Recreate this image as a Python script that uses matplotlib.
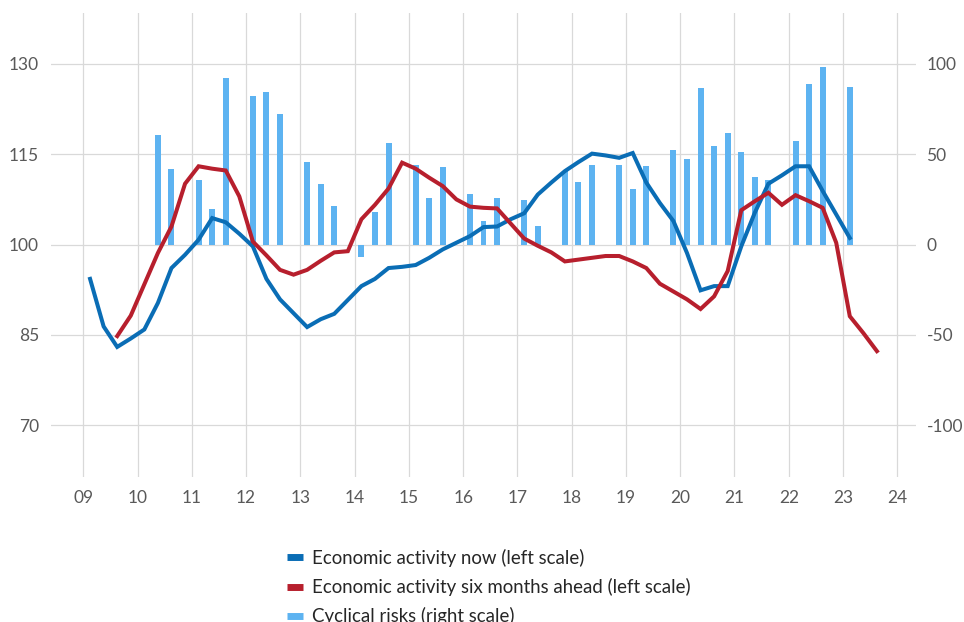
import numpy as np
import matplotlib
matplotlib.use("Agg")
import matplotlib.pyplot as plt
from matplotlib.lines import Line2D

plt.rcParams['font.family'] = ['Lato', 'DejaVu Sans']
plt.rcParams['axes.unicode_minus'] = False

# Quarterly survey points (fractional years)
now_dates = np.arange(2009.125, 2023.2, 0.25)
ahead_dates = np.arange(2009.625, 2023.7, 0.25)

# Economic activity now (left scale)
activity_now = [
    94.3, 86.4, 83.0, 84.4,
    85.9, 90.3, 96.1, 98.3,
    100.8, 104.4, 103.7, 101.8,
    99.7, 94.3, 90.9, 88.6,
    86.3, 87.6, 88.5, 90.8,
    93.1, 94.3, 96.1, 96.3,
    96.6, 97.8, 99.2, 100.3,
    101.4, 102.9, 103.0, 104.2,
    105.2, 108.3, 110.3, 112.2,
    113.7, 115.1, 114.8, 114.4,
    115.2, 110.3, 106.9, 103.9,
    98.6, 92.4, 93.1, 93.1,
    99.7, 105.3, 110.1, 111.5,
    113.0, 113.0, 108.9, 105.0,
    101.1,
]

# Economic activity six months ahead (left scale)
activity_ahead = [
    84.8, 88.2,
    93.4, 98.6, 103.0, 110.1,
    113.0, 112.6, 112.3, 108.0,
    100.5, 98.2, 95.8, 95.0,
    95.8, 97.3, 98.7, 98.9,
    104.2, 106.6, 109.3, 113.6,
    112.6, 111.1, 109.7, 107.5,
    106.3, 106.1, 106.0, 103.5,
    101.0, 99.8, 98.7, 97.2,
    97.5, 97.8, 98.1, 98.1,
    97.2, 96.1, 93.5, 92.2,
    90.9, 89.3, 91.4, 95.6,
    105.7, 107.2, 108.6, 106.6,
    108.2, 107.2, 106.1, 100.3,
    88.1, 85.3, 82.3,
]

# Cyclical risks (right scale)
risk_dates = [
    2010.375, 2010.625,
    2011.125, 2011.375, 2011.625,
    2012.125, 2012.375, 2012.625,
    2013.125, 2013.375, 2013.625,
    2014.125, 2014.375, 2014.625,
    2015.125, 2015.375, 2015.625,
    2016.125, 2016.375, 2016.625,
    2017.125, 2017.375, 2017.875,
    2018.125, 2018.375, 2018.875,
    2019.125, 2019.375, 2019.875,
    2020.125, 2020.375, 2020.625, 2020.875,
    2021.125, 2021.375, 2021.625,
    2022.125, 2022.375, 2022.625,
    2023.125,
]
cyclical_risks = [
    60.4, 42.1,
    35.8, 19.8, 92.4,
    82.5, 84.4, 72.4,
    45.8, 33.6, 21.1,
    -6.8, 18.1, 56.3,
    44.3, 25.5, 42.7,
    28.1, 13.3, 26.0,
    24.9, 10.1, 40.6,
    34.7, 43.8, 44.3,
    30.5, 43.4, 52.6,
    47.6, 86.4, 54.5, 61.7,
    51.3, 37.3, 35.8,
    57.4, 89.0, 98.4,
    87.4,
]

years = list(range(2009, 2025))
year_labels = [f"{y % 100:02d}" for y in years]

blue = '#0A6DB5'
red = '#B71F2D'
light = '#5DB3F1'
grid_col = '#D9D9D9'
txt = '#595959'

fig = plt.figure(figsize=(9.64, 6.22), dpi=100)
# right scale axes (bars + grid) sits underneath the left scale axes (lines)
ax2 = fig.add_axes([0.0529, 0.2331, 0.8973, 0.7455])
ax = fig.add_axes(ax2.get_position(), sharex=ax2)
ax.set_zorder(ax2.get_zorder() + 1)
ax.patch.set_visible(False)

lo, hi = 61.4, 138.4
ax.set_ylim(lo, hi)
ax2.set_ylim((lo - 100) / 0.3, (hi - 100) / 0.3)
ax2.set_xlim(2008.405, 2024.345)

ax2.bar(risk_dates, cyclical_risks, width=0.11, color=light, zorder=2)
ax.plot(now_dates, activity_now, color=blue, lw=2.9, solid_joinstyle='miter')
ax.plot(ahead_dates, activity_ahead, color=red, lw=2.9, solid_joinstyle='miter')

ax2.set_xticks(years)
ax2.set_xticklabels(year_labels)
ax2.set_yticks([-100, -50, 0, 50, 100])
ax2.yaxis.tick_right()
ax2.grid(True, color=grid_col, lw=0.9)
ax2.set_axisbelow(True)

ax.set_yticks([70, 85, 100, 115, 130])
ax.yaxis.tick_left()
ax.tick_params(axis='x', bottom=False, labelbottom=False)

for a in (ax, ax2):
    for s in a.spines.values():
        s.set_visible(False)
    a.tick_params(length=0, labelsize=12.5, labelcolor=txt)
ax.tick_params(axis='y', pad=8.6)
ax2.tick_params(axis='y', pad=7.5)
ax2.tick_params(axis='x', pad=9)

handles = [
    Line2D([], [], color=blue, lw=5, solid_capstyle='butt'),
    Line2D([], [], color=red, lw=5, solid_capstyle='butt'),
    Line2D([], [], color=light, lw=5, solid_capstyle='butt'),
]
labels = [
    'Economic activity now (left scale)',
    'Economic activity six months ahead (left scale)',
    'Cyclical risks (right scale)',
]
fig.legend(handles, labels, loc='upper left', bbox_to_anchor=(0.2977, 0.1178),
           frameon=False, fontsize=13.4, handlelength=0.86, handletextpad=0.48,
           labelspacing=0.6, borderpad=0, borderaxespad=0, labelcolor='#262626')

fig.savefig('out.png', dpi=100)
